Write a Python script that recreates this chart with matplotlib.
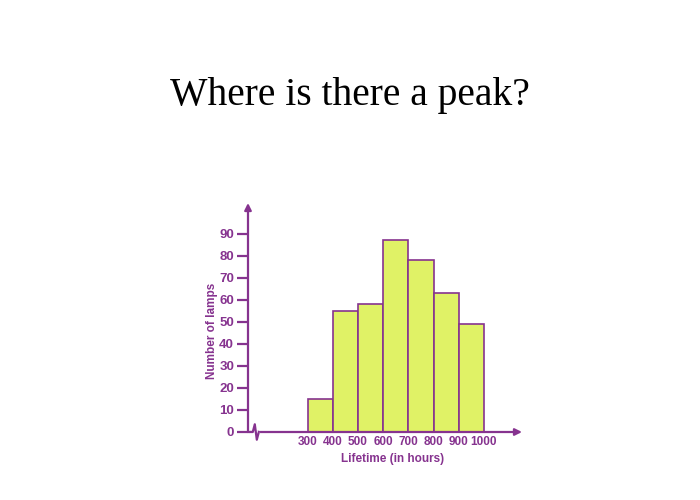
import matplotlib.pyplot as plt

# lamp lifetime histogram data
bin_edges = [300, 400, 500, 600, 700, 800, 900, 1000]
counts = [15, 55, 58, 87, 78, 63, 49]
y_ticks = [0, 10, 20, 30, 40, 50, 60, 70, 80, 90]

purple = '#86338F'
fill = '#E0F266'
sans = 'Liberation Sans'

fig = plt.figure(figsize=(7, 5), dpi=100)
fig.text(0.5, 0.81, 'Where is there a peak?', ha='center', va='center',
         fontsize=28.5, family='Liberation Serif')

ax = fig.add_axes([248 / 700, 1 - 432 / 500, 274 / 700, 229 / 500])
ax.set_xlim(63, 1151)
ax.set_ylim(0, 104)
for s in ax.spines.values():
    s.set_visible(False)

widths = [b - a for a, b in zip(bin_edges[:-1], bin_edges[1:])]
ax.bar(bin_edges[:-1], counts, width=widths, align='edge', color=fill,
       edgecolor=purple, linewidth=1.2, zorder=2)

# axes with arrow heads
ax.annotate('', xy=(1.0, 0), xytext=(0, 0), xycoords='axes fraction',
            arrowprops=dict(arrowstyle='-|>', color=purple, lw=1.6,
                            mutation_scale=10, shrinkA=0, shrinkB=0))
ax.annotate('', xy=(0, 1.0), xytext=(0, 0), xycoords='axes fraction',
            arrowprops=dict(arrowstyle='-|>', color=purple, lw=1.6,
                            mutation_scale=10, shrinkA=0, shrinkB=0))

# break mark on the x axis
ax.plot([74, 82, 90, 98, 106], [0, 0, 3.5, -3.5, 0], color=purple, lw=1.6,
        clip_on=False, zorder=4)
ax.plot([74, 104], [0, 0], color='white', lw=2.2, clip_on=False, zorder=3)

ax.set_yticks(y_ticks)
ax.set_xticks(bin_edges)
ax.tick_params(axis='y', colors=purple, length=8, width=1.6, direction='out', pad=2)
ax.tick_params(axis='x', colors=purple, length=0, pad=3)
for lab in ax.get_yticklabels():
    lab.set_fontsize(9.5)
for lab in ax.get_xticklabels():
    lab.set_fontsize(8.5)
for lab in ax.get_yticklabels() + ax.get_xticklabels():
    lab.set_fontweight('bold')
    lab.set_family(sans)
    lab.set_color(purple)

ax.set_ylabel('Number of lamps', color=purple, fontsize=8.5, fontweight='bold', family=sans)
ax.yaxis.set_label_coords(-(248 - 218) / 274, (432 - 331) / 229)
ax.set_xlabel('Lifetime (in hours)', color=purple, fontsize=8.5, fontweight='bold', family=sans)
ax.xaxis.set_label_coords((393 - 248) / 274, -0.09)

fig.savefig('out.png')
